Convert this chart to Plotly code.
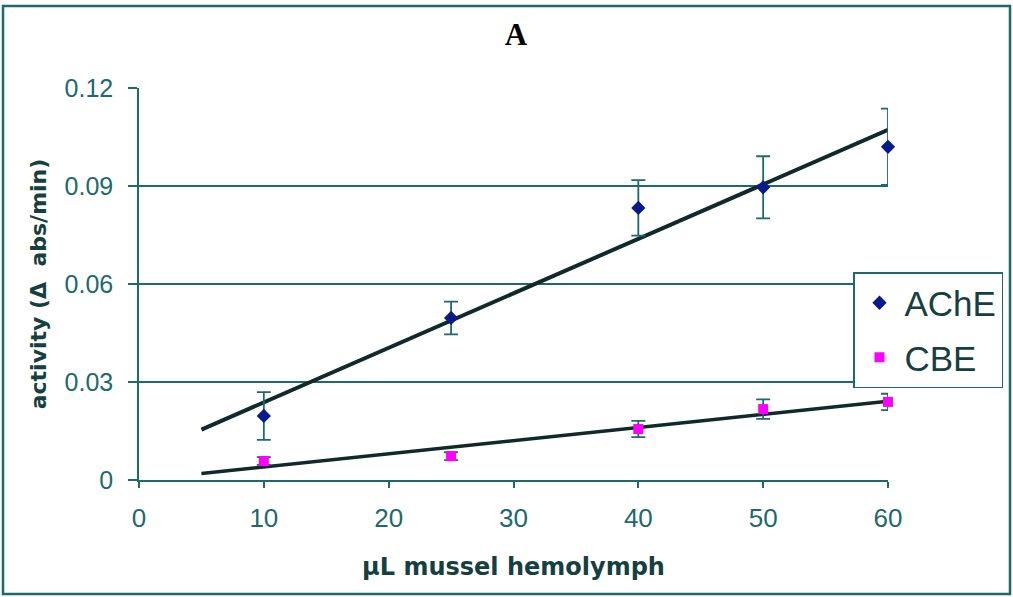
import numpy as np
import plotly.graph_objects as go

volume = [10, 25, 40, 50, 60]
ache = [0.0196, 0.0496, 0.0833, 0.0896, 0.1020]
ache_err = [0.0073, 0.0050, 0.0085, 0.0095, 0.0117]
cbe = [0.0058, 0.0073, 0.0156, 0.0217, 0.0239]
cbe_err = [0.0012, 0.0012, 0.0025, 0.0030, 0.0025]
x_ticks = [0, 10, 20, 30, 40, 50, 60]
y_ticks = [0, 0.03, 0.06, 0.09, 0.12]
y_tick_text = ["0", "0.03", "0.06", "0.09", "0.12"]
trend_x = [5, 60]

TEAL = "#1d6a6a"
DARK = "#163f3f"

a1, a0 = np.polyfit(volume, ache, 1)
c1, c0 = np.polyfit(volume, cbe, 1)
tx = np.array(trend_x, dtype=float)

fig = go.Figure()
fig.add_trace(go.Scatter(x=tx, y=a1 * tx + a0, mode="lines", cliponaxis=False,
                         line=dict(color="#102a2a", width=4), showlegend=False, hoverinfo="skip"))
fig.add_trace(go.Scatter(x=tx, y=c1 * tx + c0, mode="lines", cliponaxis=False,
                         line=dict(color="#102a2a", width=3.5), showlegend=False, hoverinfo="skip"))
fig.add_trace(go.Scatter(x=volume, y=ache, mode="markers", name="AChE", legendgroup="a",
                         cliponaxis=False,
                         marker=dict(symbol="diamond", color="#0a1a8a", size=11),
                         error_y=dict(type="data", array=ache_err, color=TEAL, thickness=1.8, width=7)))
fig.add_trace(go.Scatter(x=volume, y=cbe, mode="markers", name="CBE", legendgroup="b",
                         cliponaxis=False,
                         marker=dict(symbol="square", color="#ff00ff", size=10),
                         error_y=dict(type="data", array=cbe_err, color=TEAL, thickness=1.8, width=7)))

fig.update_layout(
    width=1013, height=597,
    margin=dict(l=139, r=125, t=88, b=117, autoexpand=False),
    paper_bgcolor="white", plot_bgcolor="white",
    title=dict(text="<b>A</b>", x=516 / 1013, xanchor="center", y=1 - 34 / 597, yanchor="middle",
               font=dict(family="Liberation Serif", size=31, color="black")),
    xaxis=dict(range=[0, 60], tickvals=x_ticks, showgrid=False, zeroline=False,
               showline=True, linecolor=TEAL, linewidth=1.5, ticks="outside",
               ticklen=6, tickcolor=TEAL, tickwidth=1.5, ticklabelstandoff=8,
               tickfont=dict(family="Liberation Sans", size=26, color=TEAL),
               title=dict(text="<b>µL mussel hemolymph</b>", standoff=26,
                          font=dict(family="DejaVu Sans", size=24, color=DARK))),
    yaxis=dict(range=[0, 0.12], tickvals=y_ticks, ticktext=y_tick_text,
               showgrid=True, gridcolor=TEAL, gridwidth=1.5, zeroline=False,
               showline=True, linecolor=TEAL, linewidth=1.5, ticks="outside",
               ticklen=9, tickcolor=TEAL, tickwidth=1.5, ticklabelstandoff=10,
               tickfont=dict(family="Liberation Sans", size=25, color=TEAL),
               title=dict(text="<b>activity (Δ  abs/min)</b>", standoff=12,
                          font=dict(family="DejaVu Sans", size=22, color=DARK))),
    legend=dict(x=(853 - 139) / 749, y=(480 - 272) / 392, xanchor="left", yanchor="top",
                bordercolor=TEAL, borderwidth=1.5, bgcolor="white",
                font=dict(family="Liberation Sans", size=35, color=DARK),
                itemsizing="trace", itemwidth=40, tracegroupgap=6),
    shapes=[dict(type="rect", xref="paper", yref="paper",
                 x0=(3 - 139) / 749, x1=(1010 - 139) / 749,
                 y0=(480 - 594) / 392, y1=(480 - 6) / 392,
                 line=dict(color=TEAL, width=2.5))],
)

fig.write_html("out.html")
